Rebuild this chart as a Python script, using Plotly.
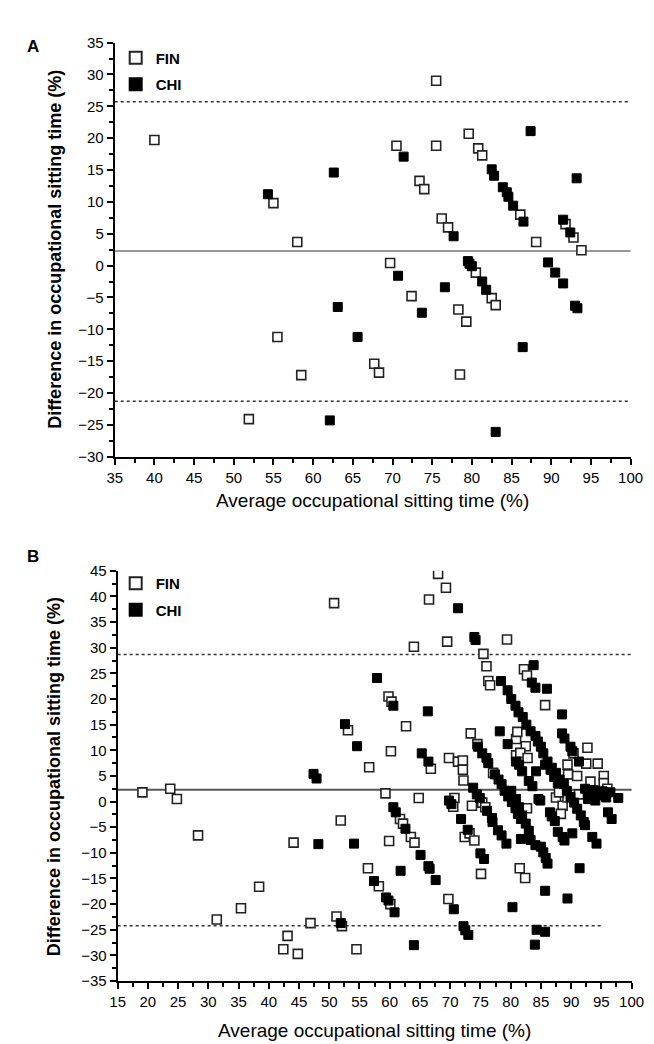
import plotly.graph_objects as go

# ---------------- Panel A data ----------------
a_fin_x = [40.0, 55.0, 58.0, 75.5, 70.5, 75.5, 79.6, 80.8, 81.3, 86.1, 88.1, 91.8, 92.8, 93.8,
           73.4, 74.0, 76.2, 77.0, 69.7, 72.4, 78.3, 79.3, 78.5, 80.5, 82.5, 83.0, 67.7, 68.3,
           55.5, 58.5, 51.9]
a_fin_y = [19.7, 9.8, 3.7, 29.0, 18.8, 18.8, 20.7, 18.4, 17.3, 8.0, 3.7, 6.5, 4.4, 2.4,
           13.3, 12.0, 7.4, 6.0, 0.4, -4.8, -6.9, -8.8, -17.1, -1.1, -5.1, -6.2, -15.4, -16.8,
           -11.2, -17.2, -24.1]
a_chi_x = [54.3, 62.6, 71.4, 82.5, 82.8, 83.9, 84.4, 84.6, 85.2, 86.5, 87.4, 93.2, 91.5, 92.4,
           77.7, 70.7, 73.7, 76.6, 79.5, 79.7, 80.0, 81.3, 81.8, 83.0, 86.4, 89.6, 90.5, 91.5,
           93.0, 93.3, 65.6, 63.1, 62.1]
a_chi_y = [11.2, 14.6, 17.1, 15.1, 14.1, 12.3, 11.5, 10.8, 9.4, 6.9, 21.1, 13.7, 7.2, 5.2,
           4.6, -1.6, -7.4, -3.4, 0.7, 0.3, -0.1, -2.5, -3.8, -26.1, -12.8, 0.5, -1.1, -2.8,
           -6.3, -6.7, -11.2, -6.5, -24.3]
a_mean = 2.3
a_upper = 25.7
a_lower = -21.3

# ---------------- Panel B data ----------------
b_fin = [
    (19.1, 1.8), (23.7, 2.5), (24.8, 0.5), (28.3, -6.6), (31.4, -23.0), (35.4, -20.8), (38.4, -16.6),
    (42.4, -28.8), (43.1, -26.2), (44.8, -29.7), (44.1, -8.0), (46.9, -23.7), (51.2, -22.4),
    (52.1, -24.3), (54.5, -28.8), (50.8, 38.7), (51.9, -3.7), (53.1, 13.9), (56.6, 6.7),
    (56.4, -13.0), (58.2, -16.5), (59.9, -7.7), (60.1, -20.0), (59.3, 1.6), (59.8, 20.5),
    (60.3, 19.5), (60.2, 9.8), (61.7, -3.4), (62.2, -4.3), (63.5, -6.9), (64.1, -8.0),
    (62.7, 14.7), (64.0, 30.2), (64.8, 0.7), (66.5, 39.4), (66.8, 6.4), (68.0, 44.4),
    (69.3, 41.7), (69.5, 31.2), (69.8, 8.5), (69.7, -19.0), (70.7, 0.7), (70.5, -1.0),
    (71.3, 7.8), (72.1, 8.0), (72.1, 6.2), (72.2, 4.1), (72.4, -6.9), (73.2, -6.2), (73.4, 13.3),
    (73.6, -0.8), (74.0, -7.6), (74.5, 11.2), (75.1, -14.1), (75.3, -0.2), (75.5, 28.8),
    (75.8, -1.1), (76.0, 26.4), (76.3, 23.5), (76.6, 22.7), (77.1, 5.6), (79.4, 31.6),
    (80.9, 12.2), (81.1, 13.6), (82.5, 10.8), (80.9, 9.0), (81.6, 9.5), (82.8, 8.5),
    (82.2, 25.8), (82.7, 24.6), (81.5, -13.0), (82.4, -14.9), (82.7, -1.3), (85.7, 18.8),
    (87.5, 0.8), (88.6, -0.8), (88.3, -2.4), (89.4, 0.8), (88.0, 1.8), (89.4, 7.2), (89.5, 5.3),
    (90.4, 9.4), (91.0, 5.0), (91.3, 1.4), (92.7, 10.5), (92.5, 7.4), (94.4, 7.4), (93.2, 3.9),
    (95.4, 5.0), (95.4, 3.6), (96.0, 2.5),
]
b_chi = [
    (47.4, 5.4), (47.9, 4.5), (48.2, -8.3), (51.9, -23.7), (52.6, 15.1), (54.6, 10.8), (54.1, -8.2),
    (57.4, -15.5), (57.9, 24.1), (59.4, -18.7), (59.8, -19.3), (60.8, -21.6), (60.6, 18.7),
    (60.6, -1.1), (61.0, -2.1), (61.8, -13.5), (62.6, -5.3), (64.0, -28.0), (65.1, -10.4),
    (65.3, 9.4), (66.4, 7.8), (66.3, 17.6), (66.4, -12.6), (66.6, -13.1), (67.6, -15.3),
    (69.8, 0.2), (70.2, -0.5), (70.6, -21.0), (71.3, 37.7), (71.8, -3.4), (72.9, -5.5),
    (72.2, -24.3), (72.5, -25.1), (73.0, -26.0), (73.8, 2.7), (74.4, 1.4), (74.9, 0.7),
    (74.0, 32.1), (74.2, 31.5), (74.6, 10.7), (75.3, 9.4), (76.0, 8.5), (76.3, 7.5),
    (75.0, -10.1), (75.6, -11.2), (76.1, -1.8), (76.9, -3.2), (77.0, -4.0), (77.9, -5.6),
    (78.5, -6.6), (79.3, -8.2), (77.4, 5.3), (78.0, 4.3), (78.5, 3.4), (79.0, 2.1), (79.6, 1.0),
    (80.2, -0.1), (80.8, -1.3), (81.2, -2.4), (81.7, -3.4), (78.2, 13.7), (79.5, 11.2),
    (80.9, 7.8), (81.4, 7.2), (81.9, 5.9), (83.0, 4.0), (83.6, 3.0), (84.2, 5.9),
    (78.4, 23.5), (79.5, 21.7), (80.1, 20.0), (80.8, 18.7), (81.3, 17.4), (82.0, 16.5),
    (82.6, 15.0), (83.3, 13.7), (84.1, 12.8), (84.5, 11.7), (85.0, 10.7), (85.4, 9.4),
    (86.1, 7.8), (86.8, 6.6), (87.5, 5.6), (88.1, 4.3), (88.8, 3.4), (89.3, 2.1), (89.9, 0.9),
    (90.5, -0.2), (91.0, -1.4), (91.6, -2.7), (92.1, -4.0), (92.3, -4.6),
    (80.1, 2.1), (80.9, 0.5), (81.4, -1.1), (81.9, -2.7), (82.5, -4.3), (83.0, -5.7),
    (83.3, -7.5), (84.1, -8.5), (85.0, -8.8), (85.4, -9.9), (85.8, -11.0), (86.1, -12.1),
    (81.7, -7.3), (84.9, 0.2), (84.6, 0.5), (83.8, 26.6), (83.5, 23.2), (84.1, 22.2),
    (86.0, 22.0), (88.5, 17.0), (88.5, 13.3), (88.9, 12.3), (89.9, 10.7), (90.2, 9.8),
    (91.3, 7.8), (85.7, 7.2), (86.6, 6.2), (87.2, 4.8), (87.8, 3.6),
    (80.3, -20.6), (84.3, -25.0), (85.7, -25.4), (84.0, -27.9), (85.7, -17.4), (89.4, -18.9),
    (91.4, -13.0), (87.8, -5.9), (88.6, -6.9), (88.9, -7.6), (90.2, -6.2), (93.5, -6.9),
    (94.2, -8.2), (96.1, -2.1), (96.7, -3.4), (97.8, 0.7), (92.3, 2.5), (93.0, 1.5), (93.8, 2.2),
    (94.5, 1.2), (95.2, 2.0), (95.8, 0.8), (96.5, 1.8), (92.8, 0.5), (94.0, 0.2),
    (86.5, -2.1), (86.8, -2.9), (87.3, -3.8),
]
b_fin_x = [p[0] for p in b_fin]
b_fin_y = [p[1] for p in b_fin]
b_chi_x = [p[0] for p in b_chi]
b_chi_y = [p[1] for p in b_chi]
b_mean = 2.3
b_upper = 28.7
b_lower = -24.2
b_lower_end = 95

a_xticks = list(range(35, 101, 5))
a_yticks = list(range(-30, 36, 5))
b_xticks = list(range(15, 101, 5))
b_yticks = list(range(-35, 46, 5))

FONT = "Arial, Liberation Sans, sans-serif"
W, H = 654, 1044

fin_marker = dict(symbol="square", size=9, color="white", line=dict(color="#222", width=1.6))
chi_marker = dict(symbol="square", size=9, color="black", line=dict(color="black", width=1))

fig = go.Figure()
fig.add_trace(go.Scatter(x=a_fin_x, y=a_fin_y, mode="markers", name="FIN", marker=fin_marker,
                         xaxis="x", yaxis="y", legend="legend", legendgroup="afin"))
fig.add_trace(go.Scatter(x=a_chi_x, y=a_chi_y, mode="markers", name="CHI", marker=chi_marker,
                         xaxis="x", yaxis="y", legend="legend", legendgroup="achi"))
fig.add_trace(go.Scatter(x=b_fin_x, y=b_fin_y, mode="markers", name="FIN", marker=fin_marker,
                         xaxis="x2", yaxis="y2", legend="legend2", legendgroup="bfin"))
fig.add_trace(go.Scatter(x=b_chi_x, y=b_chi_y, mode="markers", name="CHI", marker=chi_marker,
                         xaxis="x2", yaxis="y2", legend="legend2", legendgroup="bchi"))

def px_x(p):
    return p / W

def px_y(p):
    return 1 - p / H

axis_common = dict(showline=True, linewidth=2, linecolor="black", showgrid=False, zeroline=False,
                   ticks="outside", ticklen=6, tickwidth=2, tickcolor="black",
                   tickfont=dict(family=FONT, size=15, color="black"),
                   minor=dict(ticks="outside", ticklen=4, tickwidth=1.5, tickcolor="black"))

legend_common = dict(xanchor="left", yanchor="top", bgcolor="rgba(0,0,0,0)",
                     font=dict(family=FONT, size=15, color="black", weight="bold"),
                     itemsizing="constant", tracegroupgap=4)

fig.update_layout(
    width=W, height=H, margin=dict(l=0, r=0, t=0, b=0),
    paper_bgcolor="white", plot_bgcolor="white",
    font=dict(family=FONT, color="black"),
    xaxis=dict(domain=[px_x(102), px_x(635)], range=[35, 100], tickvals=a_xticks,
               anchor="y", minor_dtick=2.5, **axis_common),
    yaxis=dict(domain=[px_y(447), px_y(26)], range=[-30, 35], tickvals=a_yticks,
               anchor="x", minor_dtick=2.5, **axis_common),
    xaxis2=dict(domain=[px_x(105), px_x(636)], range=[15, 100], tickvals=b_xticks,
                anchor="y2", minor_dtick=2.5, **axis_common),
    yaxis2=dict(domain=[px_y(980), px_y(563)], range=[-35, 45], tickvals=b_yticks,
                anchor="x2", minor_dtick=2.5, **axis_common),
    legend=dict(x=px_x(103), y=px_y(25), **legend_common),
    legend2=dict(x=px_x(103), y=px_y(559), **legend_common),
    showlegend=True,
)

shapes = [
    dict(type="line", xref="x domain", yref="y", x0=0, x1=1, y0=a_mean, y1=a_mean,
         line=dict(color="#999999", width=2)),
    dict(type="line", xref="x domain", yref="y", x0=0, x1=1, y0=a_upper, y1=a_upper,
         line=dict(color="#333", width=1.5, dash="dot")),
    dict(type="line", xref="x domain", yref="y", x0=0, x1=1, y0=a_lower, y1=a_lower,
         line=dict(color="#333", width=1.5, dash="dot")),
    dict(type="line", xref="x2 domain", yref="y2", x0=0, x1=1, y0=b_mean, y1=b_mean,
         line=dict(color="#555555", width=2)),
    dict(type="line", xref="x2 domain", yref="y2", x0=0, x1=1, y0=b_upper, y1=b_upper,
         line=dict(color="#333", width=1.5, dash="dot")),
    dict(type="line", xref="x2", yref="y2", x0=15, x1=b_lower_end, y0=b_lower, y1=b_lower,
         line=dict(color="#333", width=1.5, dash="dot")),
]
for s in shapes:
    s["layer"] = "below"
fig.update_layout(shapes=shapes)

ytitle = "Difference in occupational sitting time (%)"
xtitle = "Average occupational sitting time (%)"

def ann(text, x, y, size, angle=0):
    return dict(text=text, x=px_x(x), y=px_y(y), xref="paper", yref="paper", showarrow=False,
                xanchor="center", yanchor="middle", textangle=angle,
                font=dict(size=size, family=FONT, color="black"))

annotations = [
    ann("<b>A</b>", 18, 30, 17),
    ann("<b>B</b>", 18, 548, 17),
    ann("<b>" + ytitle + "</b>", 40, 236, 18, -90),
    ann("<b>" + ytitle + "</b>", 40, 772, 18, -90),
    ann(xtitle, 368, 491, 19),
    ann(xtitle, 370, 1030, 19),
]
fig.update_layout(annotations=annotations)

fig.write_html("out.html")
